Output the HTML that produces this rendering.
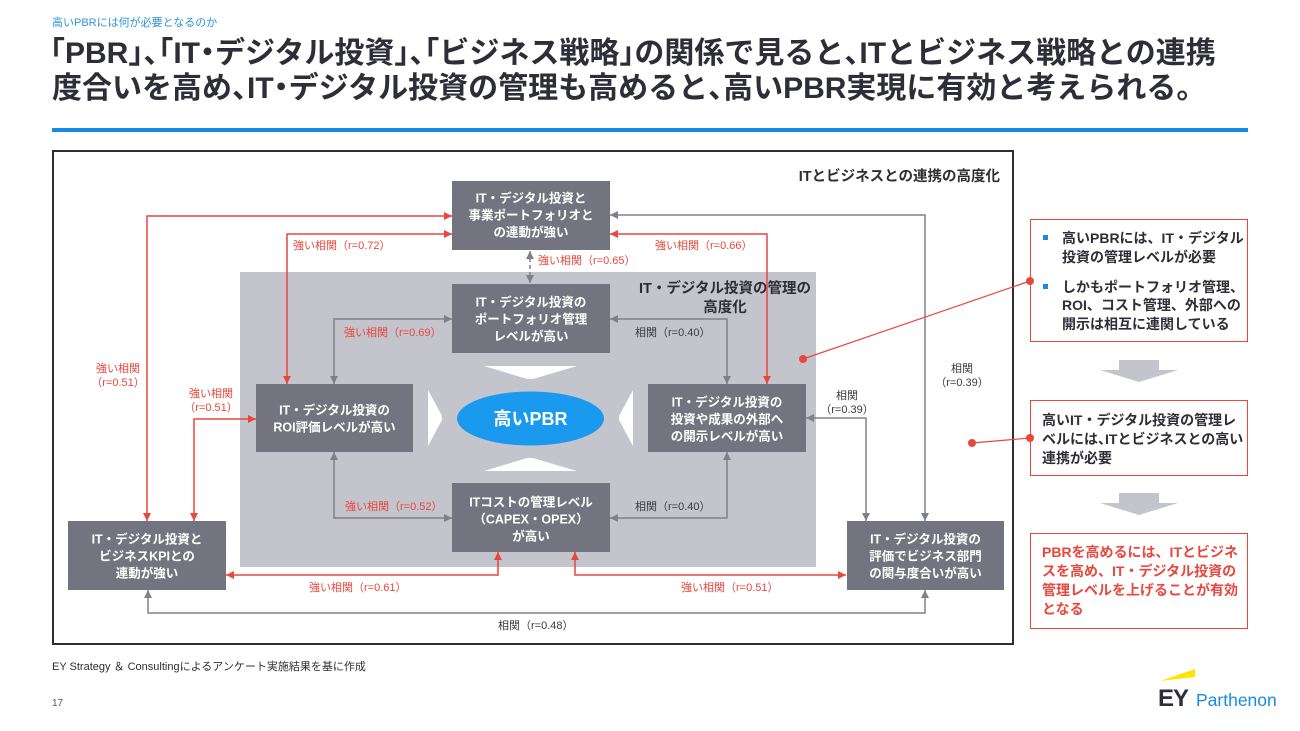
<!DOCTYPE html>
<html lang="ja">
<head>
<meta charset="utf-8">
<style>
  html,body{margin:0;padding:0;background:#fff;}
  body{width:1300px;height:731px;overflow:hidden;}
  svg{display:block;font-family:"Liberation Sans","Noto Sans CJK JP",sans-serif;}
  .h{font-feature-settings:"halt";}
</style>
</head>
<body>
<svg width="1300" height="731" viewBox="0 0 1300 731" xmlns="http://www.w3.org/2000/svg">
  <defs>
    <marker id="ar" viewBox="0 0 10 10" refX="10" refY="5" markerWidth="8" markerHeight="8" markerUnits="userSpaceOnUse" orient="auto-start-reverse">
      <path d="M0,0L10,5L0,10z" fill="#E8473D"/>
    </marker>
    <marker id="ag" viewBox="0 0 10 10" refX="10" refY="5" markerWidth="8" markerHeight="8" markerUnits="userSpaceOnUse" orient="auto-start-reverse">
      <path d="M0,0L10,5L0,10z" fill="#80808B"/>
    </marker>
  </defs>

  <!-- Header -->
  <text x="52" y="26" font-size="11" fill="#2D93DD">高いPBRには何が必要となるのか</text>
  <text x="50" y="63" font-size="30" font-weight="bold" fill="#2E2E38"><tspan class="h">「</tspan>PBR<tspan class="h">」、「</tspan>IT<tspan class="h">・</tspan>デジタル投資<tspan class="h">」、「</tspan>ビジネス戦略<tspan class="h">」</tspan>の関係で見ると<tspan class="h">、</tspan>ITとビジネス戦略との連携</text>
  <text x="52" y="98" font-size="30" font-weight="bold" fill="#2E2E38">度合いを高め<tspan class="h">、</tspan>IT<tspan class="h">・</tspan>デジタル投資の管理も高めると<tspan class="h">、</tspan>高いPBR実現に有効と考えられる。</text>
  <rect x="52" y="128" width="1196" height="4" fill="#188CE5"/>

  <!-- Diagram frame -->
  <rect x="53" y="151" width="960" height="493" fill="#fff" stroke="#2E2E38" stroke-width="2"/>
  <text x="1000" y="181" font-size="14.5" font-weight="bold" fill="#2E2E38" text-anchor="end">ITとビジネスとの連携の高度化</text>

  <!-- Gray region -->
  <rect x="240" y="272" width="576" height="295" fill="#C4C4CD"/>
  <text x="725" y="293" font-size="14.5" font-weight="bold" fill="#2E2E38" text-anchor="middle">IT・デジタル投資の管理の</text>
  <text x="725" y="312" font-size="14.5" font-weight="bold" fill="#2E2E38" text-anchor="middle">高度化</text>

  <!-- White chevrons -->
  <polygon points="484,366 577,366 533,379 527,379" fill="#fff"/>
  <polygon points="527,458 533,458 577,471 484,471" fill="#fff"/>
  <polygon points="428,390 442,416 442,420 428,446" fill="#fff"/>
  <polygon points="633,390 619,416 619,420 633,446" fill="#fff"/>

  <!-- Ellipse -->
  <ellipse cx="530.5" cy="418.5" rx="73.5" ry="27" fill="#1A9AEF"/>
  <text x="530.5" y="425" font-size="18" font-weight="bold" fill="#fff" text-anchor="middle">高いPBR</text>

  <!-- Gray connectors -->
  <g fill="none" stroke="#80808B" stroke-width="1.5">
    <path d="M530,251 V283" stroke-dasharray="4,3" marker-start="url(#ag)" marker-end="url(#ag)"/>
    <path d="M452,319 H334 V384" marker-start="url(#ag)" marker-end="url(#ag)"/>
    <path d="M610,319 H727 V384" marker-start="url(#ag)" marker-end="url(#ag)"/>
    <path d="M334,452 V518 H452" marker-start="url(#ag)" marker-end="url(#ag)"/>
    <path d="M610,518 H727 V452" marker-start="url(#ag)" marker-end="url(#ag)"/>
    <path d="M806,418 H866 V521" marker-start="url(#ag)" marker-end="url(#ag)"/>
    <path d="M610,215 H925 V521" marker-start="url(#ag)" marker-end="url(#ag)"/>
    <path d="M148,590 V613 H925 V590" marker-start="url(#ag)" marker-end="url(#ag)"/>
  </g>

  <!-- Red connectors -->
  <g fill="none" stroke="#E8473D" stroke-width="1.5">
    <path d="M452,216 H147 V521" marker-start="url(#ar)" marker-end="url(#ar)"/>
    <path d="M452,234 H287 V384" marker-start="url(#ar)" marker-end="url(#ar)"/>
    <path d="M256,419 H194 V521" marker-start="url(#ar)" marker-end="url(#ar)"/>
    <path d="M610,234 H767 V384" marker-start="url(#ar)" marker-end="url(#ar)"/>
    <path d="M226,575 H498 V552" marker-start="url(#ar)" marker-end="url(#ar)"/>
    <path d="M575,552 V575 H846" marker-start="url(#ar)" marker-end="url(#ar)"/>
  </g>

  <!-- Boxes -->
  <g fill="#747480">
    <rect x="452" y="181" width="158" height="69"/>
    <rect x="452" y="284" width="158" height="69"/>
    <rect x="256" y="384" width="157" height="68"/>
    <rect x="648" y="384" width="158" height="68"/>
    <rect x="452" y="483" width="158" height="69"/>
    <rect x="68" y="521" width="158" height="69"/>
    <rect x="847" y="521" width="157" height="69"/>
  </g>
  <g font-size="12.5" font-weight="bold" fill="#fff" text-anchor="middle">
    <text x="531" y="202.5">IT・デジタル投資と</text>
    <text x="531" y="219.5">事業ポートフォリオと</text>
    <text x="531" y="236.5">の連動が強い</text>

    <text x="531" y="306.5">IT・デジタル投資の</text>
    <text x="531" y="323.5">ポートフォリオ管理</text>
    <text x="531" y="340.5">レベルが高い</text>

    <text x="334.5" y="414.5">IT・デジタル投資の</text>
    <text x="334.5" y="431.5">ROI評価レベルが高い</text>

    <text x="727" y="406.5">IT・デジタル投資の</text>
    <text x="727" y="423.5">投資や成果の外部へ</text>
    <text x="727" y="440.5">の開示レベルが高い</text>

    <text x="531" y="506.5">ITコストの管理レベル</text>
    <text x="531" y="523.5">（CAPEX・OPEX）</text>
    <text x="531" y="540.5">が高い</text>

    <text x="147" y="543.5">IT・デジタル投資と</text>
    <text x="147" y="560.5">ビジネスKPIとの</text>
    <text x="147" y="577.5">連動が強い</text>

    <text x="925.5" y="543.5">IT・デジタル投資の</text>
    <text x="925.5" y="560.5">評価でビジネス部門</text>
    <text x="925.5" y="577.5">の関与度合いが高い</text>
  </g>

  <!-- Connector labels -->
  <g font-size="11" fill="#E8473D">
    <text x="118" y="372" text-anchor="middle">強い相関</text>
    <text x="118" y="386" text-anchor="middle">（r=0.51）</text>
    <text x="211" y="397" text-anchor="middle">強い相関</text>
    <text x="211" y="411" text-anchor="middle">（r=0.51）</text>
    <text x="293" y="249">強い相関（r=0.72）</text>
    <text x="655" y="249">強い相関（r=0.66）</text>
    <text x="538" y="264">強い相関（r=0.65）</text>
    <text x="344" y="336">強い相関（r=0.69）</text>
    <text x="345" y="510">強い相関（r=0.52）</text>
    <text x="309" y="591">強い相関（r=0.61）</text>
    <text x="681" y="591">強い相関（r=0.51）</text>
  </g>
  <g font-size="11" fill="#3A3A44">
    <text x="635" y="336">相関（r=0.40）</text>
    <text x="635" y="510">相関（r=0.40）</text>
    <text x="847" y="399" text-anchor="middle">相関</text>
    <text x="847" y="413" text-anchor="middle">（r=0.39）</text>
    <text x="962" y="372" text-anchor="middle">相関</text>
    <text x="962" y="386" text-anchor="middle">（r=0.39）</text>
    <text x="498" y="629">相関（r=0.48）</text>
  </g>

  <!-- Red callouts -->
  <g stroke="#E8473D" stroke-width="1.2" fill="none">
    <line x1="803" y1="359" x2="1030" y2="281"/>
    <line x1="972" y1="443" x2="1030" y2="438"/>
  </g>
  <g fill="#E8473D">
    <circle cx="803" cy="359" r="4"/>
    <circle cx="1030" cy="281" r="4"/>
    <circle cx="972" cy="443" r="4"/>
    <circle cx="1030" cy="438" r="4"/>
  </g>

  <!-- Right boxes -->
  <rect x="1030.5" y="219.5" width="217" height="122" fill="none" stroke="#E8473D" stroke-width="1"/>
  <rect x="1043" y="235" width="5" height="5" fill="#188CE5"/>
  <rect x="1043" y="284" width="5" height="5" fill="#188CE5"/>
  <g font-size="14" font-weight="bold" fill="#2E2E38">
    <text x="1062" y="243">高いPBRには、IT・デジタル</text>
    <text x="1062" y="262">投資の管理レベルが必要</text>
    <text x="1062" y="292">しかもポートフォリオ管理、</text>
    <text x="1062" y="310">ROI、コスト管理、外部への</text>
    <text x="1062" y="329">開示は相互に連関している</text>
  </g>

  <polygon points="1119,360 1159,360 1159,370 1178,370 1139,382 1100,370 1119,370" fill="#C4C4CD"/>

  <rect x="1030.5" y="400.5" width="217" height="75" fill="none" stroke="#E8473D" stroke-width="1"/>
  <g font-size="14" font-weight="bold" fill="#2E2E38">
    <text x="1042" y="425">高いIT・デジタル投資の管理レ</text>
    <text x="1042" y="444">ベルには<tspan class="h">、</tspan>ITとビジネスとの高い</text>
    <text x="1042" y="463">連携が必要</text>
  </g>

  <polygon points="1119,493 1159,493 1159,503 1178,503 1139,515 1100,503 1119,503" fill="#C4C4CD"/>

  <rect x="1030.5" y="533.5" width="217" height="95" fill="none" stroke="#E8473D" stroke-width="1"/>
  <g font-size="14" font-weight="bold" fill="#E8473D">
    <text x="1042" y="557">PBRを高めるには、ITとビジネ</text>
    <text x="1042" y="576">スを高め、IT・デジタル投資の</text>
    <text x="1042" y="595">管理レベルを上げることが有効</text>
    <text x="1042" y="614">となる</text>
  </g>

  <!-- Footer -->
  <text x="52" y="670" font-size="11" fill="#2E2E38">EY Strategy ＆ Consultingによるアンケート実施結果を基に作成</text>
  <text x="52" y="706" font-size="10" fill="#555">17</text>

  <!-- Logo -->
  <polygon points="1160,681 1195,669 1195,677" fill="#FFE600"/>
  <text x="1158" y="706" font-size="24" font-weight="bold" fill="#2E2E38" letter-spacing="-1">EY</text>
  <text x="1196" y="706" font-size="17.5" fill="#188CE5">Parthenon</text>
</svg>
</body>
</html>
